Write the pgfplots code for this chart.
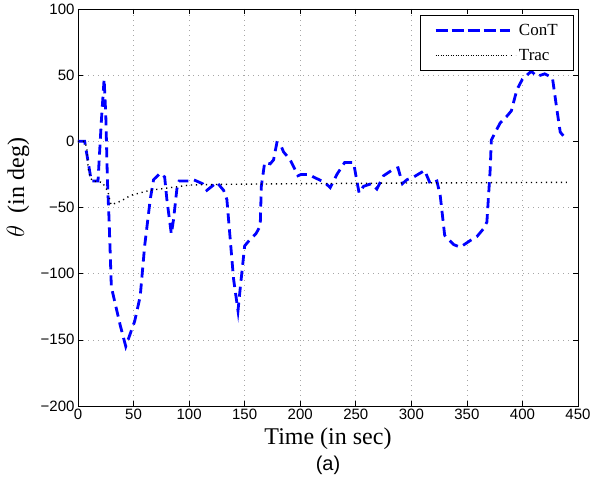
\documentclass[border=0pt]{standalone}
\usepackage{fontspec}
\setmainfont{Liberation Serif}
\setsansfont{Liberation Sans}
\usepackage{pgfplots}
\pgfplotsset{compat=1.18}
\begin{document}
\begin{tikzpicture}
\begin{axis}[
  scale only axis,
  width=500pt, height=397pt,
  xmin=0, xmax=450, ymin=-200, ymax=100,
  xtick={0,50,...,450},
  ytick={-200,-150,-100,-50,0,50,100},
  yticklabels={−200,−150,−100,−50,0,50,100},
  xticklabels={0,50,100,150,200,250,300,350,400,450},
  tick label style={font=\sffamily\fontsize{15}{15}\selectfont},
  tick align=inside,
  major tick length=5pt,
  axis line style={line width=0.8pt},
  every tick/.style={line width=0.6pt, black},
  grid=major,
  major grid style={gray!70, line width=0.6pt, dash pattern=on 0.8pt off 4.2pt},
  xlabel={Time (in sec)},
  xlabel style={font=\fontsize{24}{24}\selectfont, yshift=-1pt},
  ylabel={$\theta$~~(in deg)},
  ylabel style={font=\fontsize{24}{24}\selectfont, at={(axis description cs:-0.12,0.55)}, anchor=center},
  legend style={at={(rel axis cs:1,1)}, anchor=north east, xshift=-4pt, yshift=-6pt,
    draw=black, line width=0.6pt, font=\fontsize{17}{17}\selectfont,
    inner xsep=14pt, inner ysep=7pt, row sep=8pt},
  legend cell align=left,
  legend image code/.code={\path (-2pt,0pt) -- (78pt,0pt); \draw[#1] (0pt,0pt) -- (67pt,0pt);},
]
\coordinate (bl) at (rel axis cs:0,0);
\coordinate (tr) at (rel axis cs:1,1);
\coordinate (bc) at (rel axis cs:0.5,0);
\addplot[blue, line width=2.8pt, dash pattern=on 10pt off 6pt] coordinates {
(0,0)(6,0)(9,-15)(12,-30)(18,-30)(21,15)(23.5,47)(25,20)(26.5,-30)(28,-60)(30,-110)
(38,-139)(43,-155)(48,-143)(51,-136)(56,-117)(60,-79)(65,-44)(68,-29)(74,-24)(78,-27)
(80,-44)(84,-70)(86,-59)(89,-36)(91,-30)(101,-30)(104,-29)(112,-32)(116,-37)(125,-31)
(131,-37)(134,-44)(140,-104)(144,-128)(146,-111)(150,-79)(155,-74)(160,-70)(164,-64)
(165,-34)(168,-16)(173,-17)(176,-14)(179,-1)(182,-2)(185,-8)(191,-14)(198,-26)(201,-25)
(208,-25)(212,-27)(222,-31)(227,-35)(233,-25)(240,-16)(248,-16)(251,-30)(253,-39)
(257,-34)(264,-32)(269,-36)(275,-26)(284,-21)(288,-20)(292,-32)(296,-29)(302,-27)
(308,-24)(312,-22)(317,-32)(323,-30)(326,-41)(330,-71)(338,-78)(344,-80)(353,-75)
(359,-72)(365,-66)(368,-61)(371,-21)(372,1)(380,14)(386,19)(390,23)(395,39)(400,47)
(408,53)(413,49)(420,51)(427,48)(431,24)(434,7)(440,1)
};
\addlegendentry{ConT\hspace{20pt}}
\addplot[black, line width=1.4pt, dash pattern=on 1.2pt off 3.8pt] coordinates {
(0,0)(6,0)(8,-5)(9,-20)(11,-27)(13,-30)(22,-31)(24,-34)(27,-38)(29,-46)(30,-48)
(39,-45)(47,-41)(51,-40)(65,-37)(83,-35)(101,-33)(130,-32.5)(200,-32)(300,-31.5)(440,-31)
};
\addlegendentry{Trac\hspace{20pt}}
\end{axis}
\node[font=\sffamily\fontsize{20}{20}\selectfont] at ([yshift=-59pt]bc) {(a)};
\pgfresetboundingbox
\path[use as bounding box] ([xshift=-78pt,yshift=-87pt]bl) rectangle ([xshift=13pt,yshift=9pt]tr);
\end{tikzpicture}
\end{document}
